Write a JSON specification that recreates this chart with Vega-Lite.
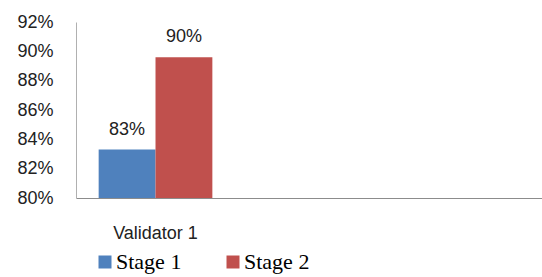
{
  "$schema": "https://vega.github.io/schema/vega-lite/v6.json",
  "width": 466,
  "height": 176,
  "autosize": {"type": "none"},
  "padding": {"left": 76, "top": 22, "right": 0, "bottom": 79},
  "background": "white",
  "config": {"view": {"stroke": null}},
  "data": {
    "values": [
      {"validator": "Validator 1", "stage": "Stage 1", "accuracy": 0.833},
      {"validator": "Validator 1", "stage": "Stage 2", "accuracy": 0.896}
    ]
  },
  "encoding": {
    "x": {
      "field": "validator",
      "type": "nominal",
      "scale": {"domain": ["Validator 1", "Validator 2", "Validator 3"], "paddingInner": 0, "paddingOuter": 0.018},
      "axis": {
        "title": null,
        "labelExpr": "datum.value == 'Validator 1' ? datum.value : ''",
        "labelAngle": 0,
        "ticks": false,
        "labelPadding": 26,
        "labelFont": "Liberation Sans",
        "labelFontSize": 18,
        "labelColor": "#222222",
        "domainColor": "#8c8c8c",
        "grid": false
      }
    },
    "xOffset": {"field": "stage", "type": "nominal", "scale": {"paddingOuter": 0.35, "paddingInner": 0}},
    "y": {
      "field": "accuracy",
      "type": "quantitative",
      "scale": {"domain": [0.8, 0.92], "zero": false},
      "axis": {
        "title": null,
        "values": [0.8, 0.82, 0.84, 0.86, 0.88, 0.9, 0.92],
        "format": ".0%",
        "ticks": false,
        "grid": false,
        "labelPadding": 23,
        "labelFont": "Liberation Sans",
        "labelFontSize": 18,
        "labelColor": "#222222",
        "domainColor": "#b0b0b0"
      }
    }
  },
  "layer": [
    {
      "mark": {"type": "bar", "clip": true},
      "encoding": {
        "color": {
          "field": "stage",
          "type": "nominal",
          "scale": {"domain": ["Stage 1", "Stage 2"], "range": ["#4F81BD", "#C0504D"]},
          "legend": {
            "title": null,
            "orient": "none",
            "direction": "horizontal",
            "legendX": 18,
            "legendY": 229,
            "padding": 0,
            "symbolType": "square",
            "symbolSize": 169,
            "symbolStrokeWidth": 0,
            "labelFont": "Liberation Serif",
            "labelFontSize": 22,
            "labelColor": "#000000",
            "labelOffset": 0,
            "columnPadding": 40
          }
        }
      }
    },
    {
      "mark": {"type": "text", "dy": -11, "font": "Liberation Sans", "fontSize": 18, "color": "#222222", "baseline": "bottom"},
      "encoding": {
        "text": {"field": "accuracy", "type": "quantitative", "format": ".0%"}
      }
    }
  ]
}
